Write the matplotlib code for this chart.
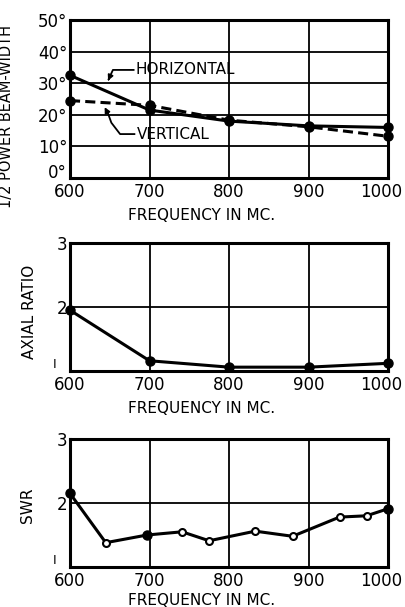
import numpy as np
import matplotlib
matplotlib.use("Agg")
import matplotlib.pyplot as plt
from matplotlib.transforms import ScaledTranslation

# Beam-width data
freq_bw = [600, 700, 800, 900, 1000]
horizontal = [32.5, 21.5, 18.0, 16.5, 16.0]
vertical = [24.5, 23.0, 18.3, 16.2, 13.2]

# Axial ratio data
freq_ar = [600, 700, 800, 900, 1000]
axial_ratio = [1.95, 1.16, 1.06, 1.06, 1.12]

# SWR data
freq_swr = [600, 645, 697, 741, 775, 833, 880, 939, 973, 1000]
swr = [2.15, 1.38, 1.50, 1.55, 1.41, 1.56, 1.48, 1.78, 1.80, 1.91]
swr_filled = [True, False, True, False, False, False, False, False, False, True]

x_ticks = [600, 700, 800, 900, 1000]
bw_ticks = [0, 10, 20, 30, 40, 50]
bw_labels = ["0°", "10°", "20°", "30°", "40°", "50°"]

plt.rcParams["font.family"] = ["DejaVu Sans"]
plt.rcParams["font.size"] = 11

fig = plt.figure(figsize=(4.06, 6.07), dpi=100)
W, H = 406.0, 607.0


def shift(label, dx_px, dy_px):
    label.set_transform(label.get_transform()
                        + ScaledTranslation(dx_px / 100, dy_px / 100, fig.dpi_scale_trans))


def make_axes(top, bottom):
    return fig.add_axes([70 / W, 1 - bottom / H, 318 / W, (bottom - top) / H])


def style(ax):
    ax.set_xlim(600, 1000)
    ax.set_xticks(x_ticks)
    ax.set_xticklabels([str(t) for t in x_ticks])
    ax.grid(True, color="black", lw=1.3)
    ax.tick_params(length=0, labelsize=12)
    ax.tick_params(axis="x", pad=3.5)
    ax.tick_params(axis="y", pad=2)
    for s in ax.spines.values():
        s.set_linewidth(2.2)
    ax.set_axisbelow(True)
    # keep "1000" inside the figure
    shift(ax.get_xticklabels()[-1], -7, 0)


# Top panel
ax1 = make_axes(20, 178)
style(ax1)
ax1.set_ylim(0, 50)
ax1.set_yticks(bw_ticks)
ax1.set_yticklabels(bw_labels)
# lift the "0°" label a little off the x tick labels
shift(ax1.get_yticklabels()[0], 0, 7)
ax1.plot(freq_bw, horizontal, "k-", lw=2.2, marker="o", ms=6.5, clip_on=False, zorder=3)
ax1.plot(freq_bw, vertical, "k--", lw=2.2, dashes=(3.3, 1.7), marker="o", ms=6.5,
         clip_on=False, zorder=3)
ax1.set_ylabel("1/2 POWER BEAM-WIDTH", fontsize=10.5)
ax1.yaxis.set_label_coords(-0.175, 0.39)
ax1.set_xlabel("FREQUENCY IN MC.", fontsize=11)
ax1.xaxis.set_label_coords(0.415, -0.19)

# leader lines for labels
ax1.text(683, 34.2, "HORIZONTAL", fontsize=11, va="center", ha="left")
ax1.plot([680, 654, 649], [34.2, 34.2, 31.5], "k-", lw=1.3)
ax1.annotate("", xy=(646.5, 30.0), xytext=(650, 32.0),
             arrowprops=dict(arrowstyle="-|>", color="black", lw=1.2, mutation_scale=8))
ax1.text(684, 13.9, "VERTICAL", fontsize=11, va="center", ha="left")
ax1.plot([681, 663, 652, 647], [13.9, 13.9, 17.5, 21.0], "k-", lw=1.3)
ax1.annotate("", xy=(642, 23.2), xytext=(647.5, 20.5),
             arrowprops=dict(arrowstyle="-|>", color="black", lw=1.2, mutation_scale=8))

# Middle panel
ax2 = make_axes(243, 371)
style(ax2)
ax2.set_ylim(1, 3)
ax2.set_yticks([1, 2, 3])
ax2.set_yticklabels(["", "2", "3"])
ax2.plot(freq_ar, axial_ratio, "k-", lw=2.2, marker="o", ms=6.5, clip_on=False, zorder=3)
ax2.text(-0.05, 0.05, "I", transform=ax2.transAxes, fontsize=9, ha="center", va="center")
ax2.set_ylabel("AXIAL RATIO", fontsize=11)
ax2.yaxis.set_label_coords(-0.105, 0.46)
ax2.set_xlabel("FREQUENCY IN MC.", fontsize=11)
ax2.xaxis.set_label_coords(0.415, -0.235)

# Bottom panel
ax3 = make_axes(439, 567)
style(ax3)
ax3.set_ylim(1, 3)
ax3.set_yticks([1, 2, 3])
ax3.set_yticklabels(["", "2", "3"])
ax3.text(-0.05, 0.05, "I", transform=ax3.transAxes, fontsize=9, ha="center", va="center")
ax3.plot(freq_swr, swr, "k-", lw=2.2, zorder=3, clip_on=False)
for f, s, filled in zip(freq_swr, swr, swr_filled):
    if filled:
        ax3.plot(f, s, "ko", ms=6.5, zorder=4, clip_on=False)
    else:
        ax3.plot(f, s, "o", ms=5, mfc="white", mec="black", mew=1.5, zorder=4, clip_on=False)
ax3.set_ylabel("SWR", fontsize=11)
ax3.yaxis.set_label_coords(-0.11, 0.48)
ax3.set_xlabel("FREQUENCY IN MC.", fontsize=11)
ax3.xaxis.set_label_coords(0.415, -0.2)

fig.savefig("out.png", dpi=100)
